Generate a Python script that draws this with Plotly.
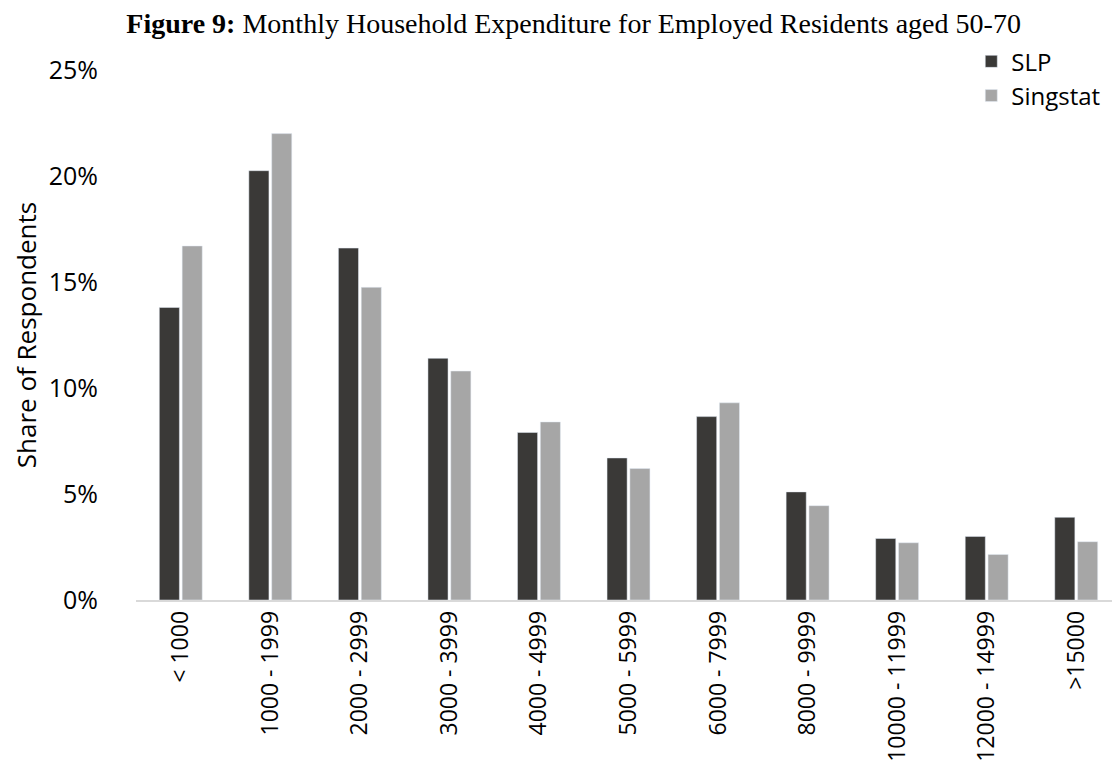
import plotly.graph_objects as go

categories = ["< 1000", "1000 - 1999", "2000 - 2999", "3000 - 3999", "4000 - 4999",
              "5000 - 5999", "6000 - 7999", "8000 - 9999", "10000 - 11999",
              "12000 - 14999", ">15000"]
slp = [13.8, 20.25, 16.6, 11.4, 7.9, 6.7, 8.65, 5.1, 2.9, 3.0, 3.9]
singstat = [16.7, 22.0, 14.75, 10.8, 8.4, 6.2, 9.3, 4.45, 2.7, 2.15, 2.75]
y_ticks = [0, 5, 10, 15, 20, 25]
y_tick_text = ["0%", "5%", "10%", "15%", "20%", "25%"]

FONT = "Open Sans"
L, R, T, B = 128, 7, 62, 186

fig = go.Figure()
fig.add_trace(go.Bar(name="SLP", x=categories, y=slp, marker=dict(color="#3a3937")))
fig.add_trace(go.Bar(name="Singstat", x=categories, y=singstat, marker=dict(color="#a6a6a6")))

fig.update_layout(
    width=1120, height=778,
    margin=dict(l=L, r=R, t=T, b=B, autoexpand=False),
    paper_bgcolor="white", plot_bgcolor="white",
    barmode="group", bargap=0.49, bargroupgap=0.12,
    font=dict(family=FONT, size=25, color="#000000"),
    title=dict(
        text="<b>Figure 9:</b> Monthly Household Expenditure for Employed Residents aged 50-70",
        font=dict(family="Liberation Serif", size=28, color="#000000"),
        x=0.505, xref="container", xanchor="center",
        y=1 - 15 / 778, yref="container", yanchor="middle",
    ),
    legend=dict(
        x=0.848, xanchor="left", y=1.058, yanchor="top",
        font=dict(family=FONT, size=24, color="#000000"),
        bgcolor="rgba(0,0,0,0)", tracegroupgap=0,
    ),
    showlegend=True,
)
fig.update_xaxes(
    showline=True, linecolor="#d9d9d9", linewidth=1.5,
    showgrid=False, ticks="", tickangle=-90,
    tickfont=dict(family=FONT, size=23, color="#000000"),
    ticklabelstandoff=0,
)
fig.update_yaxes(
    range=[0, 25], tickvals=y_ticks, ticktext=y_tick_text,
    showline=False, showgrid=False, zeroline=False, ticks="",
    tickfont=dict(family=FONT, size=25, color="#000000"),
    ticklabelstandoff=37,
    title=dict(text="Share of Respondents", standoff=8,
               font=dict(family=FONT, size=26, color="#000000")),
    automargin=False,
)

fig.write_html("out.html")
